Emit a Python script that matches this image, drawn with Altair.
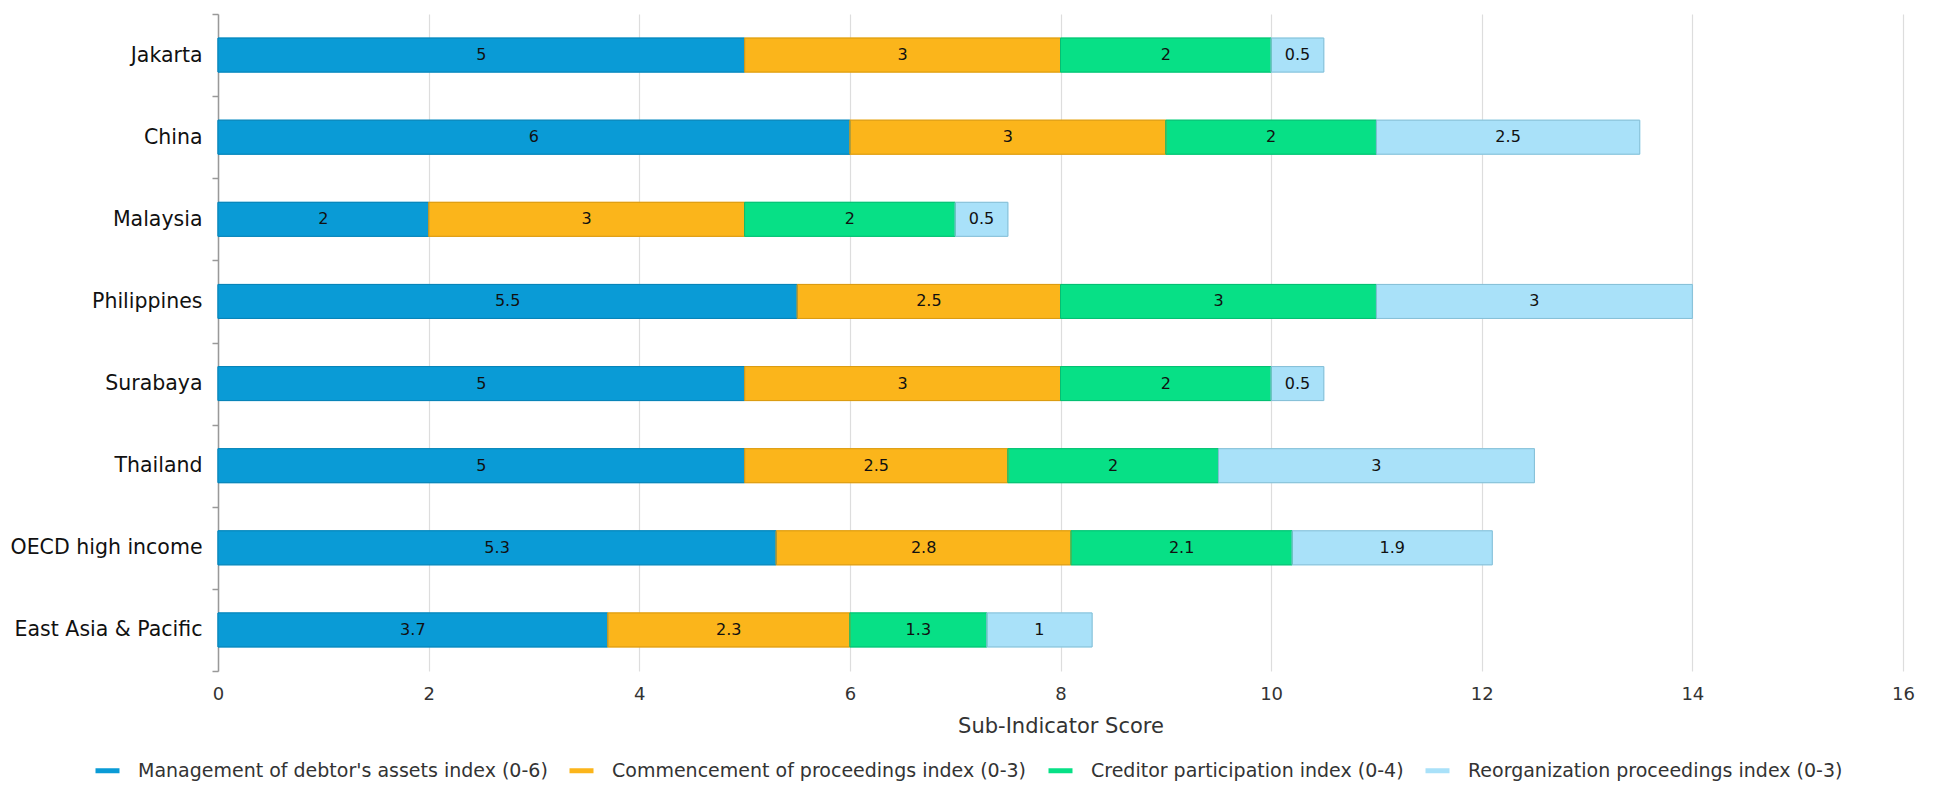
import altair as alt
import pandas as pd

countries = ["Jakarta", "China", "Malaysia", "Philippines", "Surabaya",
             "Thailand", "OECD high income", "East Asia & Pacific"]
series = ["Management of debtor's assets index (0-6)",
          "Commencement of proceedings index (0-3)",
          "Creditor participation index (0-4)",
          "Reorganization proceedings index (0-3)"]
management = [5, 6, 2, 5.5, 5, 5, 5.3, 3.7]
commencement = [3, 3, 3, 2.5, 3, 2.5, 2.8, 2.3]
creditor = [2, 2, 2, 3, 2, 2, 2.1, 1.3]
reorganization = [0.5, 2.5, 0.5, 3, 0.5, 3, 1.9, 1]

fills = ["#0A9BD6", "#FBB51B", "#07E086", "#A9E1F9"]
strokes = ["#0883B6", "#D99A12", "#05BE72", "#86BFD6"]

rows = []
for si, (s, vals) in enumerate(zip(series, [management, commencement, creditor, reorganization])):
    for c, v in zip(countries, vals):
        rows.append({"country": c, "series": s, "outline": s, "value": v, "order": si})
df = pd.DataFrame(rows)

FONT = "DejaVu Sans"

base = alt.Chart(df).transform_stack(
    stack="value", groupby=["country"], as_=["x0", "x1"],
    sort=[alt.SortField("order", order="ascending")]
).transform_calculate(mid="(datum.x0 + datum.x1) / 2")

yscale = alt.Scale(paddingInner=0, paddingOuter=0)
yenc = alt.Y("country:N", sort=countries, title=None, scale=yscale,
             axis=alt.Axis(tickBand="extent", grid=False, domainColor="#999999",
                           tickColor="#999999", tickSize=6, labelFontSize=20.5,
                           labelColor="#111111", labelFont=FONT, labelPadding=10,
                           labelLimit=0, domainWidth=1.5, tickWidth=1.5))

xenc = alt.X("x0:Q", title="Sub-Indicator Score",
             scale=alt.Scale(domain=[0, 16]),
             axis=alt.Axis(values=list(range(0, 17, 2)), format="~g", grid=True,
                           gridColor="#dddddd", gridWidth=1.2, domain=False, ticks=False,
                           labelFlush=False,
                           labelFontSize=18, labelColor="#333333", labelFont=FONT,
                           labelPadding=14, titleFontSize=21, titleFont=FONT,
                           titleColor="#333333", titleFontWeight="normal", titlePadding=12))

bars = base.mark_bar(strokeWidth=1, size=34).encode(
    x=xenc,
    x2="x1:Q",
    y=yenc,
    fill=alt.Fill("series:N", sort=series,
                  scale=alt.Scale(domain=series, range=fills), legend=None),
    stroke=alt.Stroke("series:N", sort=series,
                      scale=alt.Scale(domain=series, range=fills),
                      legend=alt.Legend(title=None, orient="none", direction="horizontal",
                                        legendX=-125, legendY=742,
                                        symbolType="stroke", symbolSize=576,
                                        symbolStrokeWidth=5, labelFontSize=19,
                                        labelFont=FONT, labelColor="#333333",
                                        labelLimit=0,
                                        labelOffset=16, columnPadding=11)),
    order=alt.Order("order:Q"),
)

outlines = base.mark_bar(strokeWidth=1, size=34, filled=False).encode(
    x=alt.X("x0:Q"),
    x2="x1:Q",
    y=alt.Y("country:N", sort=countries, scale=yscale),
    stroke=alt.Stroke("outline:N", sort=series,
                      scale=alt.Scale(domain=series, range=strokes), legend=None),
)

labels = base.mark_text(fontSize=16, font=FONT, color="#111111").encode(
    x=alt.X("mid:Q"),
    y=alt.Y("country:N", sort=countries, scale=yscale),
    text=alt.Text("value:Q", format="~g"),
)

chart = alt.layer(bars, outlines, labels).resolve_scale(stroke="independent").properties(
    width=1685, height=657,
    autosize=alt.AutoSizeParams(type="none"),
    padding={"left": 210, "top": 6, "right": 20, "bottom": 110},
).configure_view(stroke=None)

chart.save("out.html", embed_options={"renderer": "svg", "actions": False})
